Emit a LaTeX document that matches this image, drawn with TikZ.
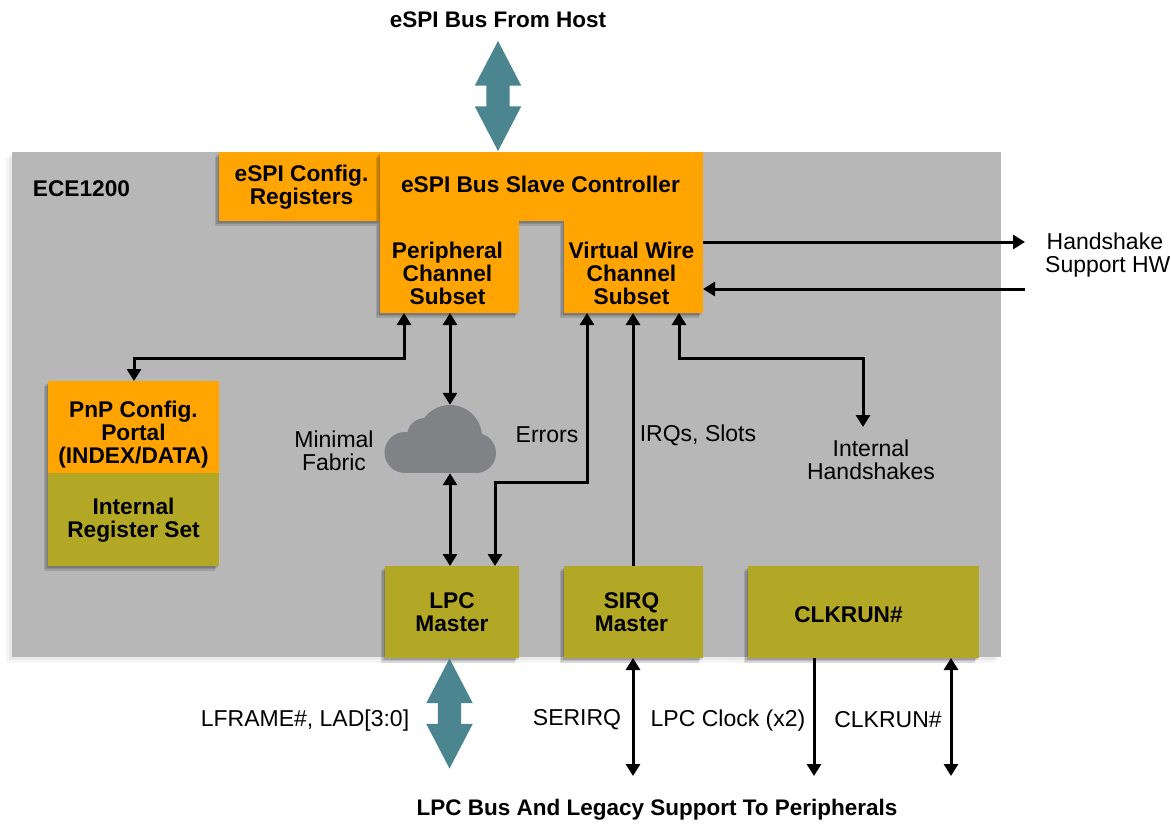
\documentclass[tikz,border=0pt]{standalone}
\usepackage{fontspec}
\setmainfont{Liberation Sans}
\usetikzlibrary{arrows.meta}
\usetikzlibrary{positioning}
\usetikzlibrary{shadows}
\usetikzlibrary{shapes.arrows}
\definecolor{boxorange}{HTML}{FFA400}
\definecolor{boxolive}{HTML}{B3A826}
\definecolor{panelgray}{HTML}{B7B7B7}
\definecolor{busteal}{HTML}{4B8590}
\definecolor{cloudgray}{HTML}{808285}
\tikzset{
	softshadow/.style={
		drop shadow={shadow xshift=-4.5pt,shadow yshift=-4.5pt,opacity=.12,fill=black},
		drop shadow={shadow xshift=-3pt,shadow yshift=-3pt,opacity=.12,fill=black},
		drop shadow={shadow xshift=-1.5pt,shadow yshift=-1.5pt,opacity=.12,fill=black}},
	panelshadow/.style={
		drop shadow={shadow xshift=-6pt,shadow yshift=-6pt,opacity=.04,fill=black},
		drop shadow={shadow xshift=-3pt,shadow yshift=-3pt,opacity=.05,fill=black}},
	block/.style={softshadow,inner sep=0,outer sep=0},
	orangebox/.style={block,fill=boxorange},
	olivebox/.style={block,fill=boxolive},
	boxtext/.style={font=\fontsize{22.7}{23}\selectfont\bfseries,align=center,inner sep=0},
	caption/.style={font=\fontsize{23}{23}\selectfont,align=center,inner sep=0},
	title/.style={font=\fontsize{22.5}{24}\selectfont\bfseries,inner sep=0},
	bus/.style={double arrow,fill=busteal,rotate=90,inner xsep=0,inner ysep=11.5pt,minimum height=110pt,minimum width=46pt,
		double arrow head extend=11.5pt,double arrow tip angle=55},
	wire/.style={line width=3pt,black,>={Triangle[length=12pt,width=14pt]}}
}
\begin{document}
\begin{tikzpicture}[x=1pt,y=-1pt,node distance=0,on grid=false]
	\useasboundingbox (0,0) rectangle (1171,825);
	% Place nodes
	\node [panelshadow,fill=panelgray,anchor=north west,inner sep=0,minimum width=989pt,minimum height=505pt] (chip) at (12,152) {};
	\node [orangebox,anchor=north west,minimum width=161pt,minimum height=69pt,label={[boxtext,name=cfgtext,xshift=2pt,yshift=-0.5pt]center:eSPI Config.\\Registers}] (cfg) at (219,152) {};
	\node [orangebox,right=of cfg,minimum width=323pt,minimum height=69pt,label={[boxtext,name=ctrltext,xshift=-1pt,yshift=2pt]center:eSPI Bus Slave Controller}] (ctrl) {};
	\node [orangebox,anchor=north west,minimum width=139pt,minimum height=92pt,label={[boxtext,name=periphtext,xshift=-2pt,yshift=-6pt]center:Peripheral\\Channel\\Subset}] (periph) at (ctrl.south west) {};
	\node [orangebox,anchor=north east,minimum width=139pt,minimum height=92pt,label={[boxtext,name=vwiretext,xshift=-2pt,yshift=-6pt]center:Virtual Wire\\Channel\\Subset}] (vwire) at (ctrl.south east) {};
	\node [orangebox,anchor=north west,minimum width=171pt,minimum height=92pt,label={[boxtext,name=pnptext,yshift=-7.5pt]center:PnP Config.\\Portal\\(INDEX/DATA)}] (pnp) at (48,381) {};
	\node [olivebox,below=of pnp,minimum width=171pt,minimum height=93pt,label={[boxtext,name=regstext,yshift=-0.5pt]center:Internal\\Register Set}] (regs) {};
	\node [olivebox,anchor=north west,minimum width=134pt,minimum height=92pt,label={[boxtext,name=lpctext]center:LPC\\Master}] (lpc) at (385,566) {};
	\node [olivebox,anchor=north west,minimum width=139pt,minimum height=92pt,label={[boxtext,name=sirqtext,xshift=-2pt]center:SIRQ\\Master}] (sirq) at (564,566) {};
	\node [olivebox,anchor=north west,minimum width=231pt,minimum height=92pt,label={[boxtext,name=clkruntext,xshift=-15pt,yshift=-3pt]center:CLKRUN\#}] (clkrun) at (748,566) {};
	\node [boxtext] (chipname) at (81.5,189) {ECE1200};

	% Cloud
	\node [inner sep=0,minimum width=111pt,minimum height=68pt] (fabric) at (440.5,439) {};
	\fill [cloudgray] (405,452.5) circle (20.5);
	\fill [cloudgray] (476,453) circle (20);
	\fill [cloudgray] (450,437) circle (32);
	\fill [cloudgray] (425,436) circle (18);
	\fill [cloudgray] (405,445) rectangle (476,473);

	% Bus arrows
	\node [bus] (hostbus) at (498,96) {};
	\node [bus] (lpcbus) at (449.5,713.5) {};

	% Labels
	\node [title] (hosttitle) at (498,19.5) {eSPI Bus From Host};
	\node [title] (lpctitle) at (657,810) {LPC Bus And Legacy Support To Peripherals};
	\node [caption] (fabricname) at (334,451) {Minimal\\Fabric};
	\node [caption] (errors) at (547,435) {Errors};
	\node [caption] (irqs) at (698,435) {IRQs, Slots};
	\node [caption] (inthand) at (871,460) {Internal\\Handshakes};
	\node [caption,anchor=west,align=left] (hshw) at (1045,255) {\hspace{1.5pt}Handshake\\Support HW};
	\node [caption] (lframe) at (305,721) {LFRAME\#, LAD[3:0]};
	\node [caption] (serirq) at (577,720) {SERIRQ};
	\node [caption] (lpcclk) at (728,721) {LPC Clock (x2)};
	\node [caption] (clkname) at (888,720) {CLKRUN\#};

	% Free ends and bends
	\coordinate (hsout) at (1025,242);
	\coordinate (hsin) at (1025,289);
	\coordinate (pnpbend) at (134,358);
	\coordinate (errbend) at (495,482);
	\coordinate (inthandend) at (863,427);
	\coordinate (serend) at (633,776);
	\coordinate (lpcclkend) at (814,776);
	\coordinate (clkend) at (951,776);

	% Connectors
	\draw [wire,<->] (pnp.north -| pnpbend) -- (pnpbend) -| ([xshift=24pt]periph.south west);
	\draw [wire,<->] ([xshift=70pt]periph.south west) -- ([xshift=9.5pt]fabric.north);
	\draw [wire,<->] ([xshift=9.5pt]fabric.south) -- ([xshift=65pt]lpc.north west);
	\draw [wire,<->] ([xshift=23pt]vwire.south west) |- (errbend) -- (errbend |- lpc.north);
	\draw [wire,->] ([xshift=69pt]sirq.north west) -- ([xshift=69pt]vwire.south west);
	\draw [wire,<->] ([xshift=115pt]vwire.south west) |- (pnpbend -| inthandend) -- (inthandend);
	\draw [wire,->] (vwire.east |- hsout) -- (hsout);
	\draw [wire,->] (hsin) -- (vwire.east |- hsin);
	\draw [wire,<->] ([xshift=69pt]sirq.south west) -- (serend);
	\draw [wire,->] (clkrun.south -| lpcclkend) -- (lpcclkend);
	\draw [wire,<->] (clkrun.south -| clkend) -- (clkend);
\end{tikzpicture}
\end{document}
